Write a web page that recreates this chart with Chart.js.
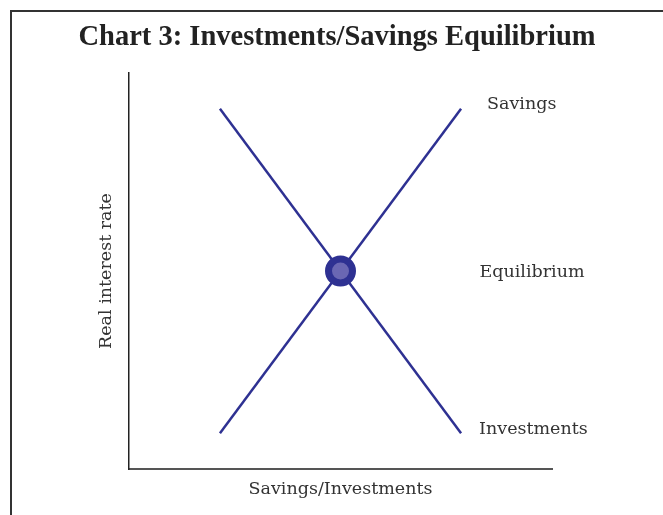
<!DOCTYPE html>
<html>
<head>
<meta charset="utf-8">
<title>Chart 3: Investments/Savings Equilibrium</title>
<script src="https://cdn.jsdelivr.net/npm/chart.js@4.4.1/dist/chart.umd.min.js"></script>
<style>
  html, body { margin: 0; padding: 0; background: #fff; overflow: hidden; }
  #frame {
    position: absolute; left: 10px; top: 10px; width: 700px; height: 600px;
    border-left: 2px solid #333; border-top: 2px solid #333;
  }
  #wrap { position: absolute; left: 0; top: 0; width: 663px; height: 515px; }
</style>
</head>
<body>
<div id="frame"></div>
<div id="wrap"><canvas id="chart"></canvas></div>
<script>
// curve end points (x = savings/investments, y = real interest rate)
const xValues = [2.15, 7.85];
const savingsValues = [0.9, 9.1];
const investmentValues = [9.1, 0.9];
const equilibriumX = [5];
const equilibriumY = [5];
const curveLabels = ["Savings", "Investments", "Equilibrium"];

const lineColor = "#2e3192";
const labelFont = "17.5px 'DejaVu Serif'";

// text next to the end of each curve and beside the equilibrium point
const curveLabelPlugin = {
  id: "curveLabels",
  afterDatasetsDraw(chart) {
    const { ctx, scales: { x, y } } = chart;
    const spots = [
      { text: curveLabels[0], px: x.getPixelForValue(xValues[1]) + 26, py: y.getPixelForValue(savingsValues[1]) - 4.5 },
      { text: curveLabels[1], px: x.getPixelForValue(xValues[1]) + 18, py: y.getPixelForValue(investmentValues[1]) - 3.5 },
      { text: curveLabels[2], px: x.getPixelForValue(equilibriumX[0]) + 139, py: y.getPixelForValue(equilibriumY[0]) + 1.5 }
    ];
    ctx.save();
    ctx.font = labelFont;
    ctx.fillStyle = "#333";
    ctx.textAlign = "left";
    ctx.textBaseline = "middle";
    spots.forEach(s => ctx.fillText(s.text, s.px, s.py));
    ctx.restore();
  }
};

const ctx = document.getElementById("chart").getContext("2d");
new Chart(ctx, {
  type: "scatter",
  data: {
    datasets: [
      {
        label: curveLabels[2],
        data: equilibriumX.map((v, i) => ({ x: v, y: equilibriumY[i] })),
        pointRadius: 12,
        pointBorderWidth: 7,
        pointBackgroundColor: "#6a67b3",
        pointBorderColor: lineColor
      },
      {
        label: curveLabels[0],
        data: xValues.map((v, i) => ({ x: v, y: savingsValues[i] })),
        showLine: true,
        borderColor: lineColor,
        borderWidth: 2.5,
        pointRadius: 0
      },
      {
        label: curveLabels[1],
        data: xValues.map((v, i) => ({ x: v, y: investmentValues[i] })),
        showLine: true,
        borderColor: lineColor,
        borderWidth: 2.5,
        pointRadius: 0
      }
    ]
  },
  options: {
    responsive: true,
    maintainAspectRatio: false,
    animation: false,
    layout: { padding: { left: 11, right: 0, top: 0, bottom: 0 } },
    plugins: {
      legend: { display: false },
      tooltip: { enabled: false },
      title: {
        display: true,
        text: "Chart 3: Investments/Savings Equilibrium",
        color: "#222",
        font: { family: "'Liberation Serif'", size: 28.5, weight: "bold" },
        padding: { top: 20.2, bottom: 18.6 }
      }
    },
    scales: {
      x: {
        type: "linear",
        min: 0,
        max: 10,
        grid: { display: false, drawTicks: false },
        ticks: { display: false },
        border: { display: true, color: "#555", width: 2 },
        title: {
          display: true,
          text: "Savings/Investments",
          color: "#333",
          font: { family: "'DejaVu Serif'", size: 17.5 },
          padding: { top: 10, bottom: 15 }
        }
      },
      y: {
        type: "linear",
        min: 0,
        max: 10,
        grid: { display: false, drawTicks: false },
        ticks: { display: false },
        border: { display: true, color: "#222", width: 1.5 },
        title: {
          display: true,
          text: "Real interest rate",
          color: "#333",
          font: { family: "'DejaVu Serif'", size: 17.5 },
          padding: { top: 84.5, bottom: 12.5 }
        }
      },
      y2: {
        type: "linear",
        position: "right",
        display: true,
        grid: { display: false, drawTicks: false },
        ticks: { display: false },
        border: { display: false },
        afterFit(scale) { scale.width = 111; }
      }
    }
  },
  plugins: [curveLabelPlugin]
});
</script>
</body>
</html>
